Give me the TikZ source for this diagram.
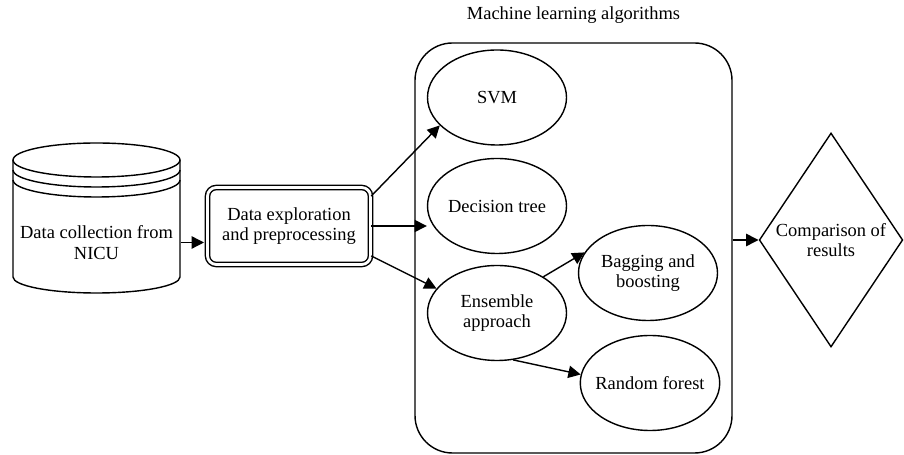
\documentclass[tikz,border=0pt]{standalone}
\usepackage{fontspec}
\setmainfont{Liberation Serif}
\usetikzlibrary{shapes.geometric,arrows.meta,positioning,calc}

\begin{document}
\begin{tikzpicture}[
  line width=0.8pt,
  every node/.style={font=\fontsize{10.5}{11.5}\selectfont, align=center},
  algo/.style={draw, ellipse, inner sep=0pt, minimum width=2.78cm, minimum height=1.9cm},
  arr/.style={-{Triangle[length=7pt,width=7pt]}}
]
  \useasboundingbox (0,0) rectangle (18.08,9.1);

  % Data source (cylinder)
  \draw (0.26,5.9) -- (0.26,3.56) arc[start angle=180, end angle=360, x radius=1.67, y radius=0.32] -- (3.6,5.9);
  \draw (1.93,5.9) ellipse (1.67 and 0.34);
  \foreach \y in {5.7,5.5}
    \draw (0.26,\y) arc[start angle=180, end angle=360, x radius=1.67, y radius=0.34];
  \node[minimum width=3.34cm] (collect) at (1.93,4.25) {Data collection from\\NICU};

  % Preprocessing
  \node[draw, double, double distance=1.6pt, rounded corners=5pt, minimum width=3.26cm, minimum height=1.54cm] (prep) at (5.78,4.58) {Data exploration\\and preprocessing};

  % Machine learning block
  \node[draw, rounded corners=0.75cm, minimum width=6.34cm, minimum height=8.2cm] (ml) at (11.47,4.14) {};
  \node[above=0.24cm of ml] (mltitle) {Machine learning algorithms};

  \node[algo] (svm) at (9.94,7.15) {SVM};
  \node[algo] (dtree) at (9.94,4.98) {Decision tree};
  \node[algo] (ens) at (9.94,2.84) {Ensemble\\approach};
  \node[algo] (bag) at (12.96,3.64) {Bagging and\\boosting};
  \node[algo, inner xsep=-3pt] (rf) at (13.0,1.44) {Random forest};

  % Comparison
  \node[draw, diamond, inner sep=0pt, minimum width=2.84cm, minimum height=4.28cm] (cmp) at (16.62,4.3) {Comparison of\\results};

  % Arrows
  \draw[arr, shorten >=1.6pt] (collect.east) -- (collect.east -| prep.west);
  \draw[arr] (prep.20) -- (svm.206);
  \draw[arr] (prep.east) -- (prep.east -| dtree.west);
  \draw[arr] (prep.-20) -- (ens.158);
  \draw[arr] (ens.38) -- (bag.162);
  \draw[arr] (ens.-71) -- (rf.173);
  \draw[arr] (ml.east |- cmp.west) -- (cmp.west);
\end{tikzpicture}
\end{document}
